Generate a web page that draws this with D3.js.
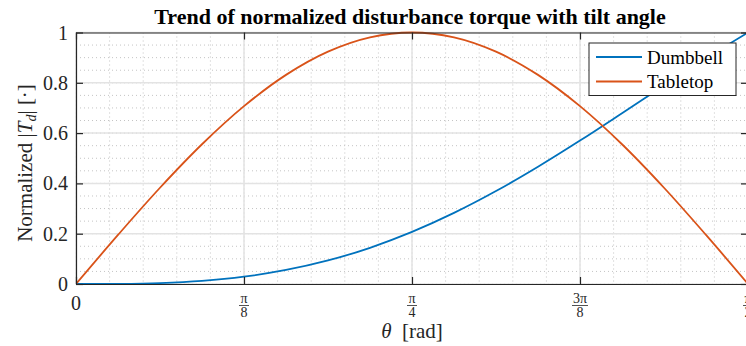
<!DOCTYPE html>
<html>
<head>
<meta charset="utf-8">
<script src="https://cdn.jsdelivr.net/npm/d3@7"></script>
<style>
  body { margin: 0; background: #fff; }
  svg { display: block; font-family: "Liberation Serif", "DejaVu Serif", serif; }
</style>
</head>
<body>
<svg id="chart" width="746" height="346"></svg>
<script>
// theta samples in units of pi/32 (0 .. pi/2)
var thetaSteps = [0, 1, 2, 3, 4, 5, 6, 7, 8, 9, 10, 11, 12, 13, 14, 15, 16];
var dumbbell = [0, 0.0005, 0.0038, 0.0125, 0.0291, 0.0557, 0.0936, 0.1440, 0.2071,
                0.2826, 0.3695, 0.4662, 0.5703, 0.6791, 0.7894, 0.8977, 1];
var tabletop = [0, 0.1951, 0.3827, 0.5556, 0.7071, 0.8315, 0.9239, 0.9808, 1,
                0.9808, 0.9239, 0.8315, 0.7071, 0.5556, 0.3827, 0.1951, 0];
var seriesNames = ["Dumbbell", "Tabletop"];
var seriesColors = ["#0072BD", "#D95319"];
var xTickNum = ["0", "\u03c0", "\u03c0", "3\u03c0", "\u03c0"];
var xTickDen = ["", "8", "4", "8", "2"];
var yTicks = [0, 0.2, 0.4, 0.6, 0.8, 1];

var pLeft = 76, pRight = 748, pTop = 32.5, pBottom = 284;

var svg = d3.select("#chart");

var x = d3.scaleLinear().domain([0, Math.PI / 2]).range([pLeft, pRight]);
var y = d3.scaleLinear().domain([0, 1]).range([pBottom, pTop]);

var xMajor = d3.range(0, 5).map(function (i) { return i * Math.PI / 8; });
var xMinor = d3.range(0, 21).map(function (i) { return i * Math.PI / 40; });
var yMinor = d3.range(0, 21).map(function (i) { return i * 0.05; });

// minor grid
var grid = svg.append("g");
grid.selectAll(".xminor").data(xMinor).enter().append("line")
    .attr("x1", d => x(d)).attr("x2", d => x(d))
    .attr("y1", pTop).attr("y2", pBottom)
    .attr("stroke", "#c4c4c4").attr("stroke-width", 1)
    .attr("stroke-dasharray", "1,3");
grid.selectAll(".yminor").data(yMinor).enter().append("line")
    .attr("y1", d => y(d)).attr("y2", d => y(d))
    .attr("x1", pLeft).attr("x2", pRight)
    .attr("stroke", "#c4c4c4").attr("stroke-width", 1)
    .attr("stroke-dasharray", "1,3");

// major grid
grid.selectAll(".xmajor").data(xMajor).enter().append("line")
    .attr("x1", d => x(d)).attr("x2", d => x(d))
    .attr("y1", pTop).attr("y2", pBottom)
    .attr("stroke", "#e3e3e3").attr("stroke-width", 1.5);
grid.selectAll(".ymajor").data(yTicks).enter().append("line")
    .attr("y1", d => y(d)).attr("y2", d => y(d))
    .attr("x1", pLeft).attr("x2", pRight)
    .attr("stroke", "#e3e3e3").attr("stroke-width", 1.5);

// clip
svg.append("clipPath").attr("id", "clip")
    .append("rect").attr("x", pLeft).attr("y", pTop - 2)
    .attr("width", pRight - pLeft).attr("height", pBottom - pTop + 4);

var line = d3.line()
    .x(function (d, i) { return x(thetaSteps[i] * Math.PI / 32); })
    .y(function (d) { return y(d); })
    .curve(d3.curveCatmullRom);

var plot = svg.append("g").attr("clip-path", "url(#clip)");
[dumbbell, tabletop].forEach(function (s, i) {
    plot.append("path")
        .datum(s)
        .attr("fill", "none")
        .attr("stroke", seriesColors[i])
        .attr("stroke-width", 1.8)
        .attr("d", line);
});

// axes (inward ticks on all sides)
var axisStyle = function (g) {
    g.select(".domain").attr("stroke", "#262626").attr("stroke-width", 1.2);
    g.selectAll(".tick line").attr("stroke", "#262626").attr("stroke-width", 1.2);
};
svg.append("g").attr("transform", "translate(0," + pBottom + ")")
    .call(d3.axisBottom(x).tickValues(xMajor).tickSize(-7).tickSizeOuter(0).tickFormat(""))
    .call(axisStyle);
svg.append("g").attr("transform", "translate(0," + pTop + ")")
    .call(d3.axisTop(x).tickValues(xMajor).tickSize(-7).tickSizeOuter(0).tickFormat(""))
    .call(axisStyle);
svg.append("g").attr("transform", "translate(" + pLeft + ",0)")
    .call(d3.axisLeft(y).tickValues(yTicks).tickSize(-7).tickSizeOuter(0).tickFormat(""))
    .call(axisStyle);
svg.append("g").attr("transform", "translate(" + pRight + ",0)")
    .call(d3.axisRight(y).tickValues(yTicks).tickSize(-7).tickSizeOuter(0).tickFormat(""))
    .call(axisStyle);

// y tick labels
svg.selectAll(".ylab").data(yTicks).enter().append("text")
    .attr("x", pLeft - 8).attr("y", d => y(d) + 7)
    .attr("text-anchor", "end")
    .attr("font-size", 20).attr("fill", "#262626")
    .text(d => d3.format("~g")(d));

// x tick labels (fractions)
xMajor.forEach(function (v, i) {
    var cx = x(v);
    if (xTickDen[i] === "") {
        svg.append("text").attr("x", cx).attr("y", 310)
            .attr("text-anchor", "middle").attr("font-size", 20).attr("fill", "#262626")
            .text(xTickNum[i]);
    } else {
        svg.append("text").attr("x", cx).attr("y", 303)
            .attr("text-anchor", "middle").attr("font-size", 14).attr("fill", "#262626")
            .text(xTickNum[i]);
        var w = xTickNum[i].length > 1 ? 16 : 10;
        svg.append("line").attr("x1", cx - w / 2).attr("x2", cx + w / 2)
            .attr("y1", 305.5).attr("y2", 305.5)
            .attr("stroke", "#262626").attr("stroke-width", 0.8);
        svg.append("text").attr("x", cx).attr("y", 317)
            .attr("text-anchor", "middle").attr("font-size", 14).attr("fill", "#262626")
            .text(xTickDen[i]);
    }
});

// axis labels
var xl = svg.append("text").attr("x", 412).attr("y", 338)
    .attr("text-anchor", "middle").attr("font-size", 21).attr("fill", "#262626");
xl.append("tspan").attr("font-style", "italic").text("\u03b8");
xl.append("tspan").text("\u2002[rad]");

var yl = svg.append("text")
    .attr("transform", "translate(32,163) rotate(-90)")
    .attr("text-anchor", "middle").attr("font-size", 21).attr("fill", "#262626");
yl.append("tspan").text("Normalized |");
yl.append("tspan").attr("font-style", "italic").text("T");
yl.append("tspan").attr("font-style", "italic").attr("font-size", 14).attr("dy", 4).text("d");
yl.append("tspan").attr("dy", -4).text("| [\u00b7]");

// title
svg.append("text").attr("x", 410).attr("y", 24)
    .attr("text-anchor", "middle").attr("font-size", 22).attr("font-weight", "bold")
    .attr("fill", "#000")
    .text("Trend of normalized disturbance torque with tilt angle");

// legend
var lg = svg.append("g");
lg.append("rect").attr("x", 589).attr("y", 43).attr("width", 147).attr("height", 52.5)
    .attr("fill", "#fff").attr("stroke", "#262626").attr("stroke-width", 1);
seriesNames.forEach(function (n, i) {
    var ly = 57 + i * 24.5;
    lg.append("line").attr("x1", 596).attr("x2", 642).attr("y1", ly).attr("y2", ly)
        .attr("stroke", seriesColors[i]).attr("stroke-width", 1.8);
    lg.append("text").attr("x", 647).attr("y", ly + 6.5)
        .attr("font-size", 19).attr("fill", "#000").text(n);
});
</script>
</body>
</html>
